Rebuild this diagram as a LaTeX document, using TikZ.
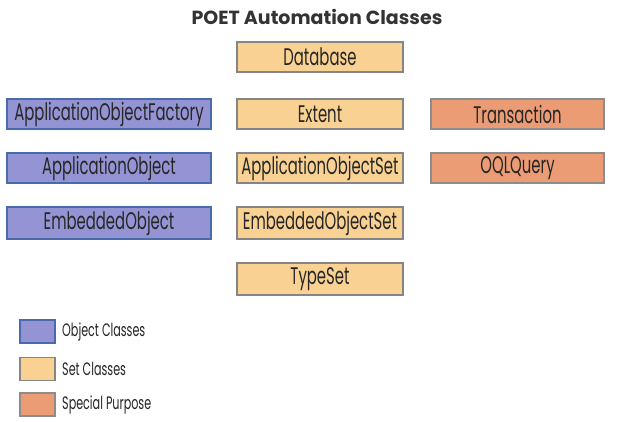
\documentclass[tikz,border=0pt]{standalone}
\usepackage{fontspec}
\setmainfont{Poppins}
\newfontfamily\boxfont{Poppins}[FakeStretch=0.62]
\definecolor{objfill}{HTML}{9494D4}
\definecolor{objline}{HTML}{4A6AAE}
\definecolor{setfill}{HTML}{F9D293}
\definecolor{setline}{HTML}{858585}
\definecolor{spfill}{HTML}{EC9C74}
\definecolor{spline}{HTML}{8C8C8C}
\begin{document}
\begin{tikzpicture}[x=1pt,y=-1pt,
  cls/.style={draw,line width=1.4pt,minimum height=30pt,inner sep=0pt,font=\boxfont\fontsize{24}{24}\selectfont,text=black!85},
  objc/.style={cls,fill=objfill,draw=objline,minimum width=204pt},
  setc/.style={cls,fill=setfill,draw=setline,minimum width=166pt},
  spc/.style={cls,fill=spfill,draw=spline,minimum width=173pt},
  leg/.style={draw,line width=1.3pt,minimum width=35pt,minimum height=23pt,inner sep=0pt},
  legtext/.style={anchor=west,font=\boxfont\fontsize{18}{18}\selectfont,text=black!85,inner sep=0pt}]
\useasboundingbox[fill=white] (0,0) rectangle (633,422);
\node[font=\bfseries\fontsize{19}{19}\selectfont,text=black!80] (title) at (317,17) {POET Automation Classes};
\node[setc] (db) at (320,57) {Database};
\node[objc] (aof) at (109,114) {ApplicationObjectFactory};
\node[setc] (ext) at (320,114) {Extent};
\node[spc] (tr) at (517.5,114) {Transaction};
\node[objc] (ao) at (109,168) {ApplicationObject};
\node[setc] (aos) at (320,168) {ApplicationObjectSet};
\node[spc] (oql) at (517.5,168) {OQLQuery};
\node[objc,minimum height=32pt] (eo) at (109,223) {EmbeddedObject};
\node[setc,minimum height=32pt] (eos) at (320,223) {EmbeddedObjectSet};
\node[setc,minimum height=32pt] (ts) at (320,279) {TypeSet};
\node[leg,fill=objfill,draw=objline] (l1) at (37.5,331.5) {};
\node[legtext] (t1) at (62,331.5) {Object Classes};
\node[leg,fill=setfill,draw=setline] (l2) at (37.5,369) {};
\node[legtext] (t2) at (62,369) {Set Classes};
\node[leg,fill=spfill,draw=spline] (l3) at (37.5,404.5) {};
\node[legtext] (t3) at (62,404.5) {Special Purpose};
\end{tikzpicture}
\end{document}
